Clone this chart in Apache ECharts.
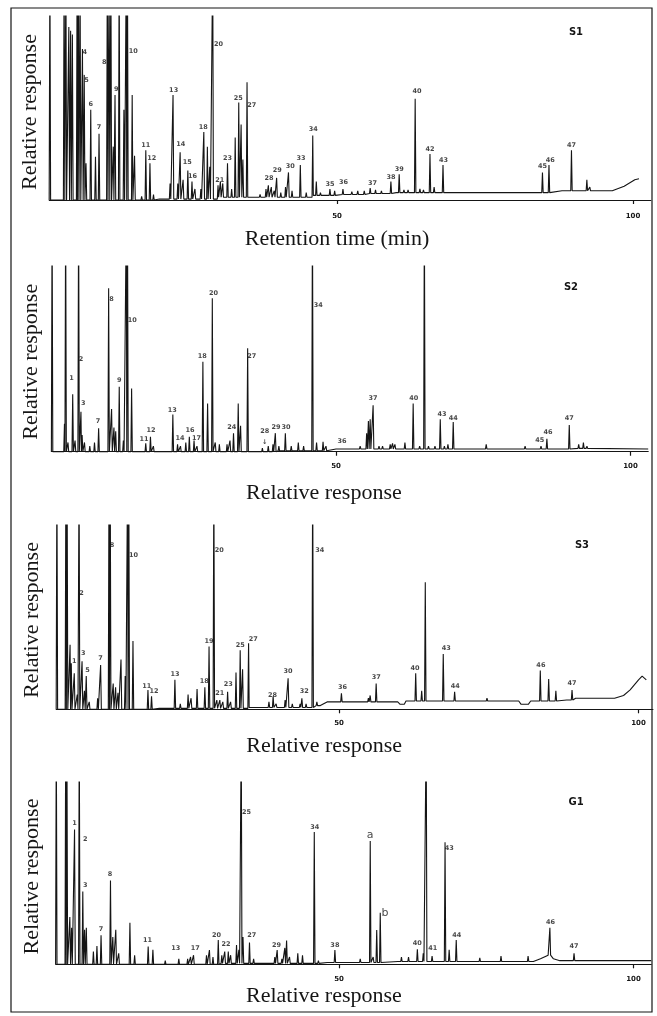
<!DOCTYPE html>
<html>
<head>
<meta charset="utf-8">
<script src="https://cdn.jsdelivr.net/npm/echarts@6.0.0/dist/echarts.min.js"></script>
<style>
  html, body { margin: 0; padding: 0; background: #fff; }
  #chart { width: 657px; height: 1016px; }
</style>
</head>
<body>
<div id="chart"></div>
<script>
// peaks: [retention time (min), top of peak in % of full scale]; >100 = off scale
var s1Peaks = [
  [1.5,130],[3.9,130],[4.2,130],[4.7,94],[5.0,92],[5.3,90],[6.1,130],[6.3,130],[6.6,120],
  [7.0,82],[7.3,68],[7.6,20],[8.4,49],[9.2,23.5],[9.8,36],
  [11.2,130],[11.5,130],[11.8,130],[12.2,29],[12.5,57],[13.2,130],[14.0,49],[14.4,130],[14.6,130],[15.4,57],[15.8,24],
  [17.0,2],[17.7,27],[18.4,20],[19.0,3],
  [21.8,9],[22.3,57],[23.1,9],[23.5,26],[24.0,11],[24.8,16],[25.5,10],[26.0,6],
  [27.0,6],[27.5,37],[28.1,29],[28.5,18],[29.0,130],
  [29.9,8],[30.3,10],[30.7,9],[31.5,20],[32.2,6],[32.8,34],[33.4,53],[33.8,41],[34.1,22],[34.8,64],
  [37.0,3],[38.0,6],[38.4,8],[38.9,7],[39.4,5],[39.8,12],[40.5,4],[41.3,7],[41.8,15],[42.4,5],[43.8,19],[44.8,4],[45.9,35],[46.5,10],[47.2,4],
  [48.8,6],[49.6,5],[51.0,6],[52.5,4.5],[53.5,5],[54.6,5],[55.6,6.5],[56.5,5.5],[57.5,5],[59.1,10],[60.5,14],[61.3,5.5],[62.0,5.5],
  [63.2,55],[64.0,6],[64.6,5.5],[65.7,25],[66.4,7],[67.9,19],[68.6,5],[69.5,5],
  [71.0,4.5],[74.0,4.5],[77.0,4.5],[81.0,4.5],[84.7,15],[85.8,19],[89.6,27],[91.5,6],[92.2,11],[92.7,7]
];
var s1Base = [[1.4,0],[20,0.5],[30,1.5],[46,2.5],[50,3],[55,3.5],[60,4],[86,4],[88,5],[96.5,5],[98.5,7.5],[100.3,11],[101,11.5]];
var s1Labels = [
  ['4',7.4,80],['5',7.7,65],['6',8.4,52],['7',9.8,39.5],['8',10.7,75],['9',12.7,60],['10',15.6,80.6],
  ['11',17.7,29.5],['12',18.7,22.6],['13',22.4,59.8],['14',23.6,30],['15',24.7,20.3],['16',25.6,12.7],
  ['18',27.4,39.5],['20',30.0,84.8],['21',30.2,10.9],['23',31.5,22.6],['25',33.3,55.3],['27',35.6,51.6],
  ['28',38.5,11.8],['29',39.9,16],['30',42.1,18.5],['33',43.9,22.6],['34',46.0,38.4],['35',48.8,8.5],['36',51.1,9.4],
  ['37',56.0,9],['38',59.1,12.1],['39',60.5,16.7],['40',63.5,58.9],['42',65.7,27.7],['43',68.0,21.7],
  ['45',84.7,18.5],['46',86.0,21.7],['47',89.6,29.9]
];

var s2Peaks = [
  [1.8,130],[3.9,15],[4.1,130],[4.5,5],[5.3,31],[5.7,6],[6.3,130],[6.7,21.5],[6.9,9],[7.3,5],[8.2,3],[9.0,5],[9.7,12.6],
  [11.4,88],[11.9,23],[12.3,13],[12.6,11],[13.2,35],[13.9,6],[14.4,130],[14.6,130],[15.3,34],
  [17.7,4.5],[18.5,8],[19.0,3],
  [22.3,20],[23.1,4],[23.6,3],[24.5,5],[25.1,8],[25.9,6],[26.4,3],[27.4,48.5],[28.2,26],[29.0,82.6],
  [29.5,5],[30.2,4],[31.5,4],[32.0,6],[32.6,10],[33.4,26],[33.8,14],[35.0,55.7],
  [37.5,2],[38.5,3],[39.3,4],[39.7,10],[40.3,3],[41.4,10],[42.4,3],[43.6,5],[44.5,3],[46.0,130],[46.7,5],[47.8,5.4],[48.3,3],
  [50.8,2.5],[53.0,2.5],[54.1,3],[55.2,10],[55.5,16.5],[55.8,17.5],[56.3,25],[57.3,3],[57.9,3],[59.2,4],[59.6,4.5],[60.0,4],[61.7,5],
  [63.1,26],[64.2,3],[65.0,130],[65.7,3],[66.8,3],[67.7,17.5],[68.4,3],[69.0,4],[69.9,16],
  [71.6,2.5],[73.9,2.5],[75.5,4],[82.1,3],[84.8,3],[85.8,7],[86.9,2.5],[88.0,2.5],[89.6,14.4],[91.2,4],[92.0,5],[92.6,3]
];
var s2Base = [[1.7,0],[40,0.5],[50,1.5],[90,1.8],[103,1.5]];
var s2Labels = [
  ['1',5.1,39.5],['2',6.7,50],['3',7.1,26],['7',9.6,16.2],['8',11.9,82],['9',13.2,38.6],['10',15.4,71],
  ['11',17.4,6.7],['12',18.6,11.7],['13',22.2,22.5],['14',23.5,7.2],['16',25.2,11.7],['17',26.3,7.2],
  ['18',27.3,51.2],['20',29.2,85.3],['24',32.3,13.1],['27',35.7,51.2],['28',37.9,10.8],['\u2193',37.9,5],
  ['29',39.8,13.1],['30',41.5,13.1],['34',47.0,79],['36',51.0,5.4],['37',56.3,28.7],['40',63.2,28.7],
  ['43',68.0,20],['44',69.9,18],['45',84.6,6.3],['46',86.0,10.2],['47',89.6,18]
];

var s3Peaks = [
  [2.9,130],[4.4,130],[4.6,130],[5.1,35],[5.3,25],[5.8,19.5],[6.3,8],[6.6,130],[7.1,26],[7.5,10],[7.8,18],[8.3,4],[9.7,6],[10.2,24],
  [11.6,130],[11.8,130],[12.3,14],[12.7,12],[13.1,9],[13.6,27],[14.3,18],[14.7,130],[14.9,130],[15.6,37],
  [18.1,10.5],[18.7,7],[22.6,16],[23.5,3],[24.8,8],[25.3,6],[26.3,11],[27.6,12],[28.3,34],[29.1,130],
  [29.6,5],[30.1,5],[30.6,4],[31.4,9.5],[31.9,4],[32.8,20],[33.5,32],[33.9,21.7],[34.9,35.8],
  [37.5,2],[38.3,4],[39.0,7],[39.5,3],[41.0,5],[41.5,16.8],[42.2,3],[43.5,3],[43.8,6],[44.5,3],[45.6,130],[46.3,4],[47.0,3],
  [50.4,8.7],[54.9,6],[55.2,7.5],[56.2,14],[61.3,5],[62.8,19.5],[63.8,10],[64.4,69],[65.2,5.5],
  [67.4,30],[68.3,5],[69.3,9.5],[74.7,6],[83.6,21],[85.0,16.4],[86.2,10],[88.9,10.5]
];
var s3Base = [[2.8,0],[20,0.5],[35,1],[46,2],[48,4],[59.8,4],[60.2,2.7],[60.9,2.7],[61.2,4.5],[80,4.5],[80.4,2.7],[81.6,2.7],[82,4.5],
  [88,5],[89.5,6],[96,6],[97.5,7.5],[98.6,10.5],[100,16],[100.6,18],[101.3,16]];
var s3Labels = [
  ['1',5.8,25.8],['2',7.0,63],['3',7.3,30.4],['5',8.0,21.3],['7',10.2,27.7],['8',12.1,89],['10',15.7,83.7],
  ['11',17.9,12.6],['12',19.1,9.5],['13',22.6,19.2],['18',27.5,15],['19',28.3,36.7],['20',30.0,86.4],['21',30.1,8.7],
  ['23',31.5,13.7],['25',33.5,34.5],['27',35.7,38],['28',38.9,7.8],['30',41.5,20.4],['32',44.2,9.5],['34',46.8,86.4],
  ['36',50.6,11.9],['37',56.2,17.4],['40',62.7,22.2],['43',67.9,33.1],['44',69.4,12.3],['46',83.7,24],['47',88.9,14.1]
];

var g1Peaks = [
  [2.0,130],[3.6,130],[3.8,130],[4.3,26],[4.6,20],[5.1,74],[5.9,130],[6.5,40],[6.8,19],[7.1,20],[8.3,7],[8.9,10],[9.6,16],
  [11.2,46],[11.6,15],[12.1,19],[12.6,6],[14.5,22.8],[15.3,5],
  [17.6,9.7],[18.4,8],[20.5,2],[22.8,3],[24.3,3],[24.8,4],[25.3,5],[27.5,5],[28.0,7.8],[28.6,4],[29.5,13.3],
  [30.1,5],[30.6,7],[31.2,7],[31.6,5],[32.6,10.6],[33.0,8],[33.4,130],[33.7,15],[34.8,11.9],[35.5,3],
  [39.1,4],[39.5,7.8],[40.3,3],[40.8,9],[41.1,13],[41.6,4],[43.0,6],[43.8,5],[45.8,72.6],[46.5,2],
  [49.3,7.8],[51.8,2],[53.6,3],[55.3,67.7],[55.8,4],[56.4,18.8],[57.0,28.3],[60.6,4],[61.8,4],
  [63.3,8.2],[64.3,6],[64.8,130],[65.8,4.5],[68.0,67],[68.7,8],[69.9,13.3],
  [72.3,2.5],[73.9,3.5],[77.5,4.5],[82.1,4.5],[85.8,20],[89.9,6]
];
var g1Base = [[1.9,0],[30,0.5],[48,1],[60,1.5],[83,1.5],[84.2,3],[85.5,5],[86.4,3],[87.5,2],[103,2]];
var g1Labels = [
  ['1',5.1,77.5],['2',6.9,68.4],['3',6.9,43.2],['7',9.6,19.2],['8',11.1,49.3],['11',17.5,13.3],['13',22.3,8.8],
  ['17',25.6,8.8],['20',29.2,16],['22',30.8,11.1],['25',34.3,83.5],['27',35.2,16],['29',39.4,10.6],['34',45.9,75],
  ['38',49.3,10.6],['a',55.3,70.8],['b',57.8,28.3],['40',63.3,11.5],['41',65.9,8.8],['43',68.7,63.5],['44',70.0,16],
  ['46',85.9,23.3],['47',89.9,9.6]
];

var xTicks = [50, 100];
var sampleNames = ['S1', 'S2', 'S3', 'G1'];
var xTitles = ['Retention time (min)', 'Relative response', 'Relative response', 'Relative response'];
var yTitle = 'Relative response';

// page layout of the four stacked chromatograms
var layout = [
  {top: 16,  height: 192,   left: 49.3, width: 601.5, min: 1.4, max: 103,   yMin: -4.35, gap: 20,   pad: 26, yGap: 8,  tag: [576, 32]},
  {top: 266, height: 191.5, left: 51.5, width: 596.7, min: 1.7, max: 103,   yMin: -3.1,  gap: 24.5, pad: 52, yGap: 9,  tag: [571, 287]},
  {top: 525, height: 190,   left: 56.3, width: 596.6, min: 2.8, max: 102.4, yMin: -3.1,  gap: 20,   pad: 61, yGap: 13, tag: [582, 545]},
  {top: 782, height: 189,   left: 55.7, width: 595.5, min: 1.9, max: 103,   yMin: -3.67, gap: 14,   pad: 59, yGap: 12, tag: [576, 802]}
];

var panels = [
  {peaks: s1Peaks, base: s1Base, labels: s1Labels},
  {peaks: s2Peaks, base: s2Base, labels: s2Labels},
  {peaks: s3Peaks, base: s3Base, labels: s3Labels},
  {peaks: g1Peaks, base: g1Base, labels: g1Labels}
];

var HALF = 0.12; // half width of a peak, min
var INK = '#151515';

function footAt(base, t) {
  var f = base[0][1];
  base.forEach(function (k) { if (k[0] <= t) f = k[1]; });
  return f;
}

function buildTrace(peaks, base) {
  var pts = base.map(function (k) { return [k[0], k[1]]; });
  peaks.forEach(function (p) {
    var f = footAt(base, p[0]);
    pts.push([p[0] - HALF, f], [p[0], p[1]], [p[0] + HALF, f]);
  });
  return pts.sort(function (a, b) { return a[0] - b[0]; });
}

var chart = echarts.init(document.getElementById('chart'), null, {renderer: 'canvas'});

var grid = [], xAxis = [], yAxis = [], series = [], graphic = [];

layout.forEach(function (L, i) {
  grid.push({left: L.left, top: L.top, width: L.width, height: L.height});
  xAxis.push({
    gridIndex: i, type: 'value', min: L.min, max: L.max,
    axisLine: {lineStyle: {color: INK, width: 1.2}},
    axisTick: {customValues: xTicks, length: 4, lineStyle: {color: INK, width: 1.2}},
    axisLabel: {customValues: xTicks, color: INK, fontSize: 7, fontWeight: 'bold', margin: 5, fontFamily: 'DejaVu Sans'},
    splitLine: {show: false},
    name: xTitles[i], nameLocation: 'middle', nameGap: L.gap,
    nameTextStyle: {fontFamily: 'Liberation Serif', fontSize: 22, color: INK, padding: [0, L.pad, 0, 0]}
  });
  yAxis.push({
    gridIndex: i, type: 'value', min: L.yMin, max: 100,
    axisLine: {show: false}, axisTick: {show: false}, axisLabel: {show: false}, splitLine: {show: false},
    name: yTitle, nameLocation: 'middle', nameGap: L.yGap,
    nameTextStyle: {fontFamily: 'Liberation Serif', fontSize: 22, color: INK}
  });
  var P = panels[i];
  series.push({
    type: 'line', xAxisIndex: i, yAxisIndex: i,
    data: buildTrace(P.peaks, P.base),
    showSymbol: false, clip: true, silent: true,
    lineStyle: {color: INK, width: 1.1},
    animation: false
  });
  series.push({
    type: 'scatter', xAxisIndex: i, yAxisIndex: i,
    symbolSize: 0, silent: true, animation: false,
    data: P.labels.map(function (l) {
      var item = {value: [l[1], l[2]], name: l[0]};
      if (l[0] === 'a' || l[0] === 'b') item.label = {fontSize: 11, fontWeight: 'normal'};
      return item;
    }),
    label: {
      show: true, position: 'inside', color: INK,
      fontSize: 6.5, fontWeight: 'bold', fontFamily: 'DejaVu Sans',
      formatter: function (p) { return p.name; }
    }
  });
  graphic.push({
    type: 'text', x: L.tag[0], y: L.tag[1], silent: true,
    style: {text: sampleNames[i], fill: INK, font: 'bold 10px "DejaVu Sans"', textAlign: 'center', textVerticalAlign: 'middle'}
  });
});

graphic.push({
  type: 'rect', silent: true, z: -1,
  shape: {x: 11, y: 8, width: 641, height: 1004},
  style: {fill: 'none', stroke: INK, lineWidth: 1.2}
});

chart.setOption({
  backgroundColor: '#fff',
  animation: false,
  grid: grid,
  xAxis: xAxis,
  yAxis: yAxis,
  series: series,
  graphic: graphic
});
</script>
</body>
</html>
